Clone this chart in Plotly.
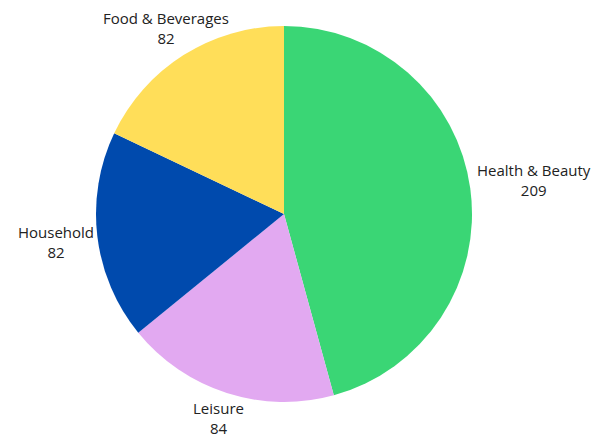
import math
import plotly.graph_objects as go

categories = ["Health & Beauty", "Leisure", "Household", "Food & Beverages"]
values = [209, 84, 82, 82]
colors = ["#3AD675", "#E2A9F1", "#004AAD", "#FFDE59"]

W, H = 595, 439
L, R, T, B = 96, 123, 26, 37
pw, ph = W - L - R, H - T - B
cx, cy = L + pw / 2, T + ph / 2
rad = min(pw, ph) / 2

fig = go.Figure(go.Pie(
    labels=categories,
    values=values,
    sort=False,
    direction="clockwise",
    rotation=0,
    marker=dict(colors=colors, line=dict(width=0)),
    textinfo="none",
    showlegend=False,
    hoverinfo="label+value",
))

# outside labels, positioned along each slice's mid angle
total = sum(values)
cum = 0
char_w, half_h, gap = 7.6, 20, 5
anns = []
for lab, v in zip(categories, values):
    th = 2 * math.pi * (cum + v / 2) / total
    cum += v
    ux, uy = math.sin(th), -math.cos(th)
    half_w = len(lab) * char_w / 2
    d = rad + gap + half_w * abs(ux) + half_h * abs(uy)
    px, py = cx + d * ux, cy + d * uy
    # keep labels inside the canvas by sliding them along the ray
    if py - half_h < 8 and uy < 0:
        d = (cy - (8 + half_h)) / -uy
    if py + half_h > H - 1 and uy > 0:
        d = ((H - 1 - half_h) - cy) / uy
    px, py = cx + d * ux, cy + d * uy
    anns.append(dict(
        x=(px - L) / pw, y=(H - B - py) / ph, xref="paper", yref="paper",
        text=f"{lab}<br>{v}", showarrow=False, xanchor="center", yanchor="middle",
        align="center", font=dict(family="Open Sans", size=15, color="#222222"),
    ))

fig.update_layout(
    width=W, height=H,
    margin=dict(l=L, r=R, t=T, b=B),
    paper_bgcolor="white",
    plot_bgcolor="white",
    annotations=anns,
)
fig.write_html("out.html")
